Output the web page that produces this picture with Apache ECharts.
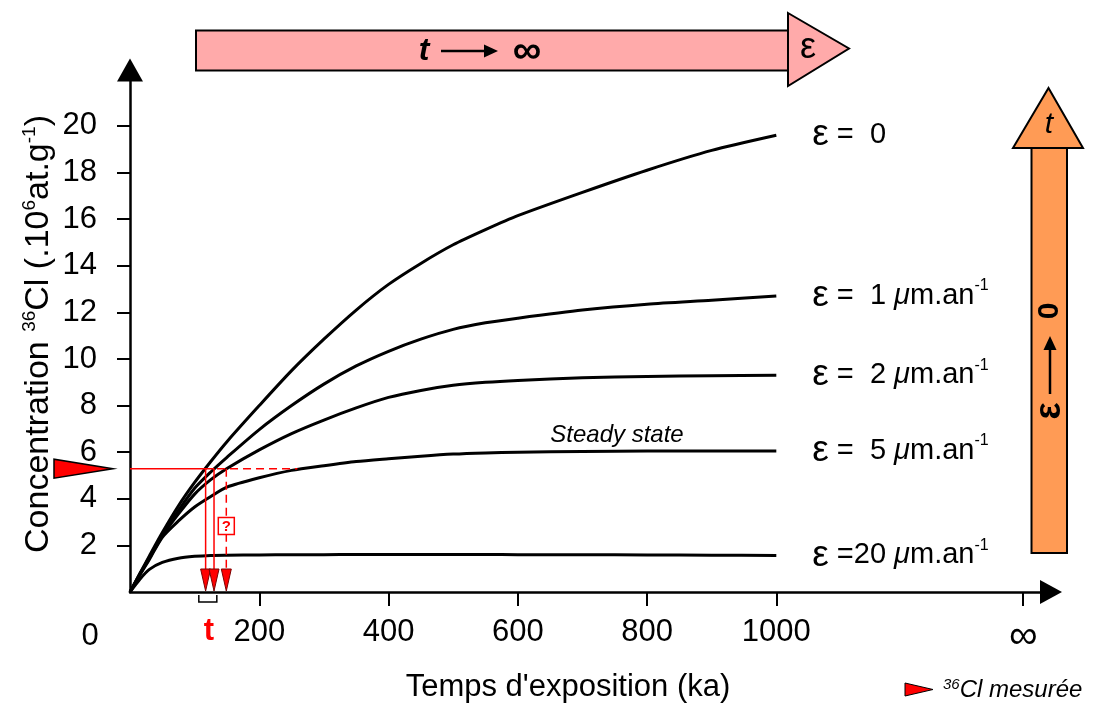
<!DOCTYPE html>
<html><head><meta charset="utf-8">
<script src="https://cdn.jsdelivr.net/npm/echarts@6/dist/echarts.min.js"></script>
<style>html,body{margin:0;padding:0;background:#fff}#c{width:1093px;height:704px}</style>
</head><body><div id="c"></div>
<script>
// ---- data (ka vs 10^6 at/g) ----
const ages      = [0, 15, 30, 50, 75, 100, 125, 150, 200, 250, 300, 350, 400, 450, 500, 550, 600, 700, 800, 900, 1000];
const conc_e0   = [0, 0.78, 1.55, 2.55, 3.7, 4.7, 5.6, 6.45, 8.0, 9.5, 10.85, 12.1, 13.2, 14.1, 14.9, 15.55, 16.15, 17.15, 18.1, 18.95, 19.6];
const conc_e1   = [0, 0.76, 1.5, 2.45, 3.5, 4.45, 5.15, 5.78, 6.97, 8.0, 8.92, 9.7, 10.33, 10.85, 11.27, 11.55, 11.75, 12.1, 12.35, 12.52, 12.7];
const conc_e2   = [0, 0.74, 1.45, 2.4, 3.35, 4.2, 4.82, 5.3, 6.1, 6.8, 7.38, 7.9, 8.35, 8.65, 8.87, 9.0, 9.08, 9.19, 9.25, 9.28, 9.3];
const conc_e5   = [0, 0.72, 1.4, 2.35, 3.05, 3.65, 4.1, 4.5, 4.9, 5.22, 5.42, 5.6, 5.72, 5.83, 5.92, 5.97, 6.0, 6.03, 6.05, 6.05, 6.05];
const conc_e20  = [0, 0.54, 0.97, 1.27, 1.45, 1.53, 1.57, 1.58, 1.59, 1.6, 1.6, 1.61, 1.61, 1.61, 1.61, 1.61, 1.6, 1.6, 1.59, 1.58, 1.57];
const erosionRates = ['0', '1', '2', '5', '20'];
const xTicks = [200, 400, 600, 800, 1000];
const yTicks = [2, 4, 6, 8, 10, 12, 14, 16, 18, 20];
const infinityAge = 1382;          // "∞" tick
const measuredConc = 5.29;         // measured 36Cl
const apparentAges = [117, 130, 149];
const steadyStateAge = 259;
const questionConc = 2.83;

const FONT = '"Liberation Sans", Arial, sans-serif';
const chart = echarts.init(document.getElementById('c'));
const concs = [conc_e0, conc_e1, conc_e2, conc_e5, conc_e20];

function epsLabel(r) {
  if (r === '0') return '{e|ε}{t| =  0}';
  const mid = r === '20' ? ' =20 ' : ' =  ' + r + ' ';
  return '{e|ε}{t|' + mid + '}{mu|μ}{t|m.an}{sup|-1}';
}
const rich = {
  e: { fontSize: 37, fontFamily: FONT, color: '#000', lineHeight: 36 },
  t: { fontSize: 29, fontFamily: FONT, color: '#000', lineHeight: 36 },
  mu: { fontSize: 29, fontFamily: FONT, fontStyle: 'italic', color: '#000', lineHeight: 36 },
  sup: { fontSize: 16, fontFamily: FONT, color: '#000', lineHeight: 22, verticalAlign: 'top' }
};

chart.setOption({
  animation: false,
  grid: { left: 130, right: 42, top: 70, bottom: 112 },
  xAxis: {
    type: 'value', min: 0, max: 1425, interval: 200,
    splitLine: { show: false },
    axisLine: { show: true, lineStyle: { color: '#000', width: 2.5 }, symbol: ['none', 'triangle'], symbolSize: [24, 22] },
    axisTick: { show: true, customValues: xTicks.concat([infinityAge]), length: 14, lineStyle: { color: '#000', width: 2 } },
    axisLabel: {
      customValues: xTicks.concat([infinityAge]), margin: 25, fontSize: 31, color: '#000', fontFamily: FONT,
      formatter: v => v === infinityAge ? '{inf|∞}' : String(v),
      rich: { inf: { fontSize: 40, fontFamily: FONT, color: '#000' } }
    }
  },
  yAxis: {
    type: 'value', min: 0, max: 22.4, interval: 2,
    splitLine: { show: false },
    axisLine: { show: true, lineStyle: { color: '#000', width: 2.5 }, symbol: ['none', 'triangle'], symbolSize: [26, 23] },
    axisTick: { show: true, customValues: yTicks, length: 13, lineStyle: { color: '#000', width: 2 } },
    axisLabel: { customValues: yTicks, margin: 33, fontSize: 31, color: '#000', fontFamily: FONT }
  },
  series: concs.map((c, i) => ({
    type: 'line',
    data: ages.map((a, j) => [a, c[j]]),
    showSymbol: false, smooth: 0.25,
    lineStyle: { color: '#000', width: 3 },
    endLabel: { show: true, distance: 36, formatter: () => epsLabel(erosionRates[i]), rich: rich },
    z: 3
  }))
});

const P = (x, y) => chart.convertToPixel({ gridIndex: 0 }, [x, y]);
const [x0, y0] = P(0, 0);
const yM = P(0, measuredConc)[1];
const ax = apparentAges.map(a => P(a, 0)[0]);
const xSteady = P(steadyStateAge, 0)[0];
const yQ = P(0, questionConc)[1];
const RED = '#ff0000';
const g = [];
// measured marker on y axis
g.push({ type: 'polygon', shape: { points: [[x0 - 76, yM - 9.5], [x0 - 76, yM + 9.5], [x0 - 17, yM]] }, style: { fill: RED, stroke: '#000', lineWidth: 1.5 }, z: 10 });
// horizontal red lines
g.push({ type: 'line', shape: { x1: x0, y1: yM, x2: ax[1], y2: yM }, style: { stroke: RED, lineWidth: 1.5 }, z: 8 });
g.push({ type: 'line', shape: { x1: ax[1] + 3, y1: yM, x2: xSteady, y2: yM }, style: { stroke: RED, lineWidth: 1.5, lineDash: [8, 5] }, z: 8 });
// verticals + arrowheads
ax.forEach((x, i) => {
  g.push({ type: 'line', shape: { x1: x, y1: yM, x2: x, y2: y0 - 22 }, style: { stroke: RED, lineWidth: 1.5, lineDash: i === 2 ? [8, 5] : null }, z: 8 });
  g.push({ type: 'polygon', shape: { points: [[x - 5, y0 - 23], [x + 5, y0 - 23], [x, y0 - 1]] }, style: { fill: RED, stroke: '#7a0000', lineWidth: 1 }, z: 9 });
});
// ? box
g.push({ type: 'rect', shape: { x: ax[2] - 8, y: yQ - 8.5, width: 16, height: 17 }, style: { fill: '#fff', stroke: RED, lineWidth: 1.5 }, z: 9 });
g.push({ type: 'text', x: ax[2], y: yQ + 0.5, style: { text: '?', fill: RED, font: 'bold 15px ' + FONT, align: 'center', verticalAlign: 'middle' }, z: 10 });
// bracket and t
const bc = (ax[0] + ax[1]) / 2 - 2;
g.push({ type: 'polyline', shape: { points: [[bc - 9, y0 + 3], [bc - 9, y0 + 10], [bc + 9, y0 + 10], [bc + 9, y0 + 3]] }, style: { stroke: '#000', lineWidth: 1.5, fill: null }, z: 9 });
g.push({ type: 'text', x: bc + 1, y: 631, style: { text: 't', fill: RED, font: 'bold 31px ' + FONT, align: 'center', verticalAlign: 'middle' } });
// origin 0
g.push({ type: 'text', x: 90, y: 636, style: { text: '0', fill: '#000', font: '31px ' + FONT, align: 'center', verticalAlign: 'middle' } });
// steady state
g.push({ type: 'text', x: 617, y: 435, style: { text: 'Steady state', fill: '#000', font: 'italic 24px ' + FONT, align: 'center', verticalAlign: 'middle' } });
// axis titles
g.push({ type: 'text', x: 568, y: 687, style: { text: "Temps d'exposition (ka)", fill: '#000', font: '31px ' + FONT, align: 'center', verticalAlign: 'middle' } });
g.push({ type: 'text', x: 39, y: 334, rotation: Math.PI / 2, style: {
  text: '{t|Concentration }{s|36}{t|Cl (.10}{s|6}{t|at.g}{s|-1}{t|)}', align: 'center', verticalAlign: 'middle',
  rich: { t: { fontSize: 34, fontFamily: FONT, fill: '#000', lineHeight: 38 }, s: { fontSize: 19, fontFamily: FONT, fill: '#000', lineHeight: 22, verticalAlign: 'top' } } } });
// top pink arrow
g.push({ type: 'rect', shape: { x: 196, y: 30.5, width: 592, height: 40 }, style: { fill: '#ffaaaa', stroke: '#000', lineWidth: 2 } });
g.push({ type: 'polygon', shape: { points: [[788, 13], [849, 48.5], [788, 86]] }, style: { fill: '#ffaaaa', stroke: '#000', lineWidth: 2 } });
g.push({ type: 'text', x: 424, y: 51, style: { text: 't', fill: '#000', font: 'italic bold 32px ' + FONT, align: 'center', verticalAlign: 'middle' } });
g.push({ type: 'line', shape: { x1: 441, y1: 51, x2: 486, y2: 51 }, style: { stroke: '#000', lineWidth: 2.5 } });
g.push({ type: 'polygon', shape: { points: [[484, 44.5], [498, 51], [484, 57.5]] }, style: { fill: '#000' } });
g.push({ type: 'text', x: 527, y: 52, style: { text: '∞', fill: '#000', font: 'bold 40px ' + FONT, align: 'center', verticalAlign: 'middle' } });
g.push({ type: 'text', x: 808, y: 48, style: { text: 'ε', fill: '#000', font: '36px ' + FONT, align: 'center', verticalAlign: 'middle' } });
// right orange arrow
g.push({ type: 'rect', shape: { x: 1031.5, y: 148, width: 35.5, height: 405 }, style: { fill: '#ff9b55', stroke: '#000', lineWidth: 2 } });
g.push({ type: 'polygon', shape: { points: [[1013, 148], [1048.5, 88], [1083, 148]] }, style: { fill: '#ff9b55', stroke: '#000', lineWidth: 2 } });
g.push({ type: 'text', x: 1049, y: 125, style: { text: 't', fill: '#000', font: 'italic 30px ' + FONT, align: 'center', verticalAlign: 'middle' } });
g.push({ type: 'text', x: 1050, y: 311, rotation: Math.PI / 2, style: { text: '0', fill: '#000', font: 'bold 30px ' + FONT, align: 'center', verticalAlign: 'middle' } });
g.push({ type: 'line', shape: { x1: 1050, y1: 394, x2: 1050, y2: 348 }, style: { stroke: '#000', lineWidth: 2.5 } });
g.push({ type: 'polygon', shape: { points: [[1043.5, 350], [1050, 336], [1056.5, 350]] }, style: { fill: '#000' } });
g.push({ type: 'text', x: 1050, y: 411, rotation: Math.PI / 2, style: { text: 'ε', fill: '#000', font: 'bold 36px ' + FONT, align: 'center', verticalAlign: 'middle' } });
// legend bottom-right
g.push({ type: 'polygon', shape: { points: [[905, 683], [905, 696], [933, 689.5]] }, style: { fill: RED, stroke: '#000', lineWidth: 1 } });
g.push({ type: 'text', x: 943, y: 690, style: {
  text: '{s|36}{t|Cl mesurée}', align: 'left', verticalAlign: 'middle',
  rich: { t: { fontSize: 24, fontStyle: 'italic', fontFamily: FONT, fill: '#000', lineHeight: 26 }, s: { fontSize: 15, fontStyle: 'italic', fontFamily: FONT, fill: '#000', lineHeight: 15, verticalAlign: 'top' } } } });

chart.setOption({ graphic: { elements: g } });
</script></body></html>
